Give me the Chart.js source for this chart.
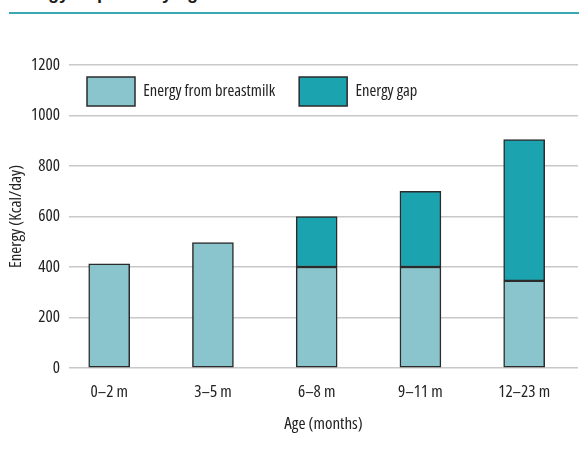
<!DOCTYPE html>
<html>
<head>
<meta charset="utf-8">
<script src="https://cdn.jsdelivr.net/npm/chart.js@4.4.1/dist/chart.umd.min.js"></script>
<style>
  html, body { margin: 0; padding: 0; background: #ffffff; }
  #wrap { position: relative; width: 579px; height: 455px; overflow: hidden; }
  #title { position: absolute; left: 8px; top: -16px; font: bold 18px "Liberation Sans", Arial, sans-serif; line-height: 18px; color: #1a1a1a; white-space: nowrap; }
  #rule { position: absolute; left: 9px; right: 0; top: 12px; height: 2px; background: #36a9b5; }
  #c { position: absolute; left: 0; top: 0; }
</style>
</head>
<body>
<div id="wrap">
  <div id="title">Energy required by age</div>
  <div id="rule"></div>
  <canvas id="c" width="579" height="455"></canvas>
</div>
<script>
// ---- data ----
const categories = ["0\u20132 m", "3\u20135 m", "6\u20138 m", "9\u201311 m", "12\u201323 m"];
const breastmilk = [413, 497, 400, 400, 345];
const energyGap = [0, 0, 200, 300, 560];
const seriesNames = ["Energy from breastmilk", "Energy gap"];
const yTicks = [0, 200, 400, 600, 800, 1000, 1200];
const xTitle = "Age (months)";
const yTitle = "Energy (Kcal/day)";

const FONT = '"Open Sans", sans-serif';
const F = { family: FONT, size: 17, weight: 'condensed' };
const FL = { family: FONT, size: 16.5, weight: 'condensed' };

const legendPlugin = {
  id: 'legendPlace',
  afterInit(chart) {
    const lg = chart.legend;
    if (lg) {
      const orig = lg.fit.bind(lg);
      lg.fit = function () { orig(); this.height = 0; };
    }
  },
  afterLayout(chart) {
    const lg = chart.legend;
    if (!lg) return;
    const p = lg.options.labels.padding;
    lg.left = 87 - p;
    lg.right = 578;
    lg.top = 77 - p;
    lg.bottom = lg.top + 100;
  }
};

new Chart(document.getElementById('c'), {
  type: 'bar',
  data: {
    datasets: [
      {
        label: seriesNames[0],
        data: breastmilk.map((v, i) => ({ x: i, y: v })),
        backgroundColor: '#8ac4cd',
        borderColor: '#2b2b2b',
        borderWidth: 1.5,
        borderSkipped: false,
        barThickness: 41
      },
      {
        label: seriesNames[1],
        data: energyGap.map((v, i) => ({ x: i, y: v })),
        backgroundColor: '#1ca3b0',
        borderColor: '#2b2b2b',
        borderWidth: 1.5,
        borderSkipped: false,
        barThickness: 41
      }
    ]
  },
  options: {
    responsive: false,
    animation: false,
    devicePixelRatio: 1,
    layout: { padding: { top: 65, right: 1, left: 0, bottom: 0 } },
    plugins: {
      legend: {
        position: 'top',
        align: 'start',
        labels: {
          boxWidth: 48,
          boxHeight: 29,
          padding: 24,
          color: '#222',
          font: FL
        }
      },
      tooltip: { enabled: false }
    },
    scales: {
      x: {
        type: 'linear',
        stacked: true,
        offset: false,
        min: -0.3875,
        max: 4.519,
        grid: { display: false, drawTicks: false, offset: false },
        border: { display: false },
        afterBuildTicks(axis) { axis.ticks = categories.map((_, i) => ({ value: i })); },
        afterFit(scale) { scale.height = 87; },
        ticks: {
          padding: 14,
          color: '#222',
          font: F,
          callback: (v) => categories[v] ?? ''
        },
        title: {
          display: true,
          text: xTitle,
          color: '#222',
          font: F,
          padding: { top: 0, bottom: 20.5 }
        }
      },
      y: {
        stacked: true,
        min: 0,
        max: 1200,
        afterBuildTicks(axis) { axis.ticks = yTicks.map(v => ({ value: v })); },
        afterFit(scale) { scale.width = 69; },
        grid: { color: '#c8c8c8', lineWidth: 1.5, drawTicks: false },
        border: { display: false },
        ticks: {
          padding: 9,
          color: '#222',
          font: F,
          callback: (v) => String(v)
        },
        title: {
          display: true,
          text: yTitle,
          color: '#222',
          font: F,
          padding: { top: 6, bottom: 0 }
        }
      }
    }
  },
  plugins: [legendPlugin]
});
</script>
</body>
</html>
